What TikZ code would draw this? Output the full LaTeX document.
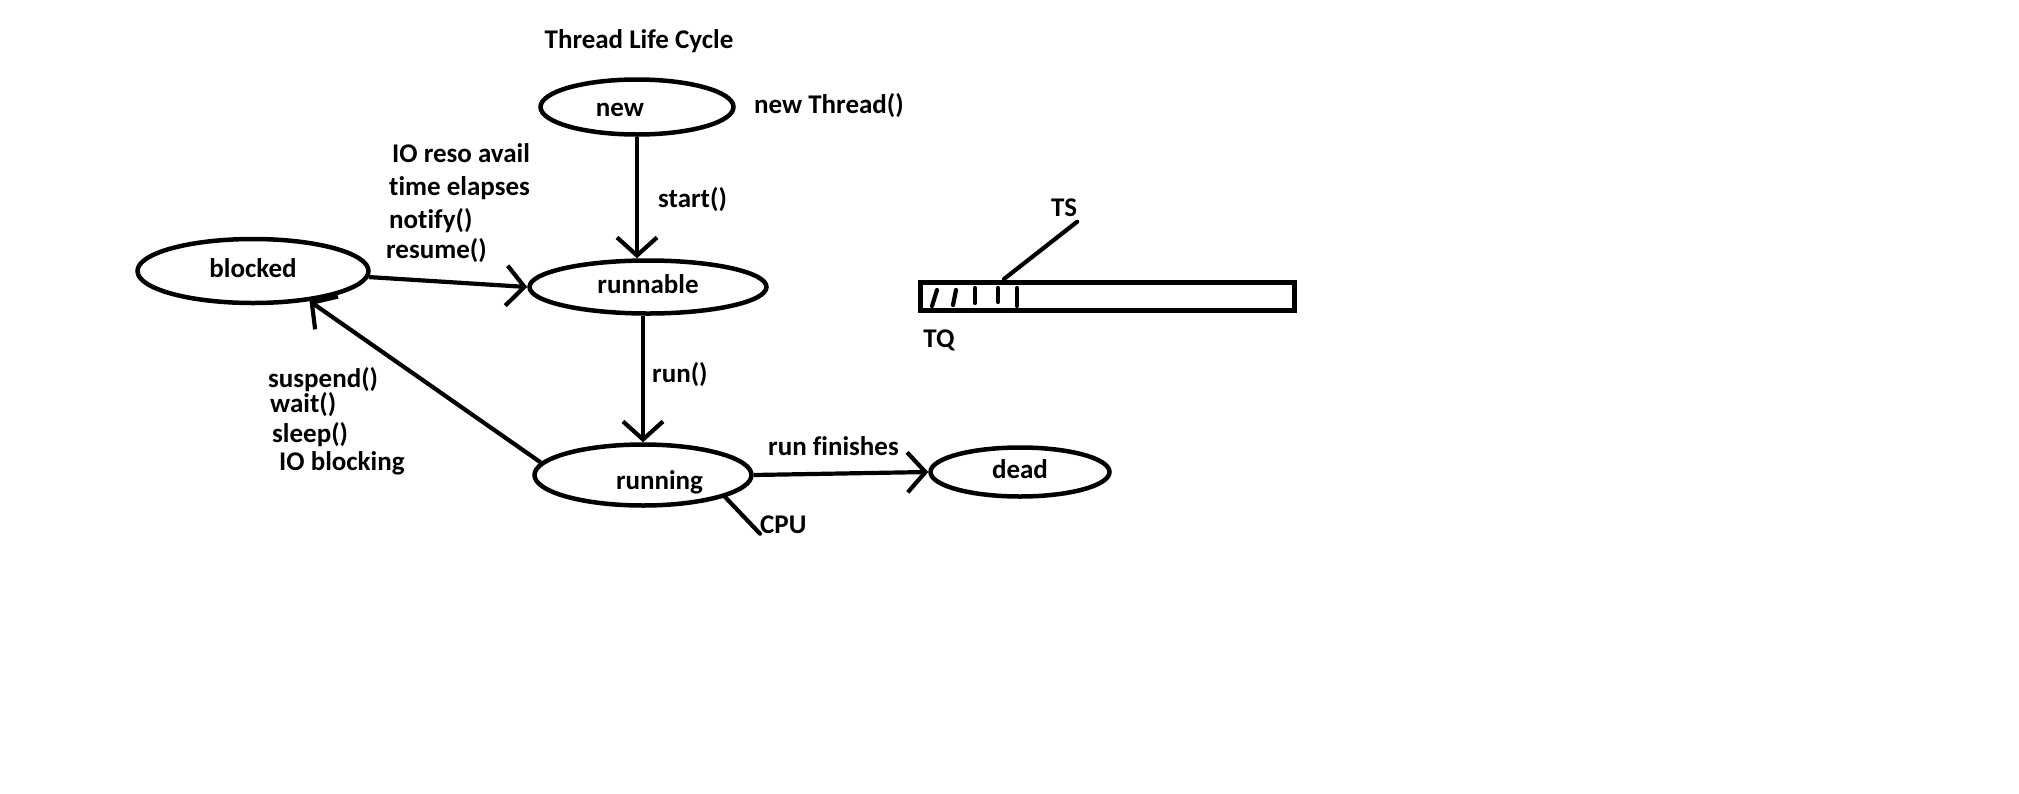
\documentclass[tikz,border=0pt]{standalone}
\usepackage{fontspec}
\setmainfont{Carlito}[Ligatures=NoCommon]
\usetikzlibrary{arrows.meta,shapes.geometric}
\begin{document}
\begin{tikzpicture}[x=1pt,y=-1pt,
  every node/.style={font=\bfseries\fontsize{27}{32}\selectfont, inner sep=0pt, text height=18pt, text depth=5pt},
  lbl/.style={text height=24pt, text depth=3pt},
  state/.style={draw, ellipse, line width=4.5pt},
  conn/.style={line width=4.2pt, -{Straight Barb[length=18pt,width=40pt]}},
  plain/.style={line width=4.2pt, line cap=round},
]
\fill[white] (0,0) rectangle (2019,793);
\useasboundingbox (0,0) rectangle (2019,793);

% states
\node[state, minimum width=193pt, minimum height=55pt, text height=22pt, text depth=4pt] (new) at (637,107) {new\hspace*{34pt}};
\node[state, minimum width=237pt, minimum height=53pt] (runnable) at (648,287) {runnable};
\node[state, minimum width=231pt, minimum height=64pt] (blocked) at (253,271) {blocked};
\node[state, minimum width=217pt, minimum height=61pt, text height=30pt, text depth=2pt] (running) at (643,475) {\hspace*{33pt}running};
\node[state, minimum width=179pt, minimum height=49pt] (dead) at (1020,472) {dead};

% labels
\node[lbl] (title) at (639,38) {Thread Life Cycle};
\node[lbl, anchor=west] (newlbl) at (754,103) {new Thread()};
\node[lbl, anchor=west] (startlbl) at (658,197) {start()};
\node[lbl, anchor=west] (runlbl) at (652,372) {run()};
\node[lbl, anchor=west] (finlbl) at (768,445) {run finishes};
\node[lbl, anchor=west] (cpu) at (760,523) {CPU};
\node[lbl] (ts) at (1064,206) {TS};
\node[lbl] (tq) at (939,337) {TQ};
\node[lbl, anchor=west] (w1) at (392,152) {IO reso avail};
\node[lbl, anchor=west] (w2) at (389,185) {time elapses};
\node[lbl, anchor=west] (w3) at (389,218) {notify()};
\node[lbl, anchor=west] (w4) at (386,248) {resume()};
\node[lbl, anchor=west] (b1) at (268,377) {suspend()};
\node[lbl, anchor=west] (b2) at (270,402) {wait()};
\node[lbl, anchor=west] (b3) at (272,432) {sleep()};
\node[lbl, anchor=west] (b4) at (279,460) {IO blocking};

% connectors
\draw[conn] (new.south) -- (new.south |- runnable.north);
\draw[conn] (running.north |- runnable.south) -- (running.north);
\draw[conn] (blocked.-3) -- (runnable.west);
\draw[conn] (running.173) -- (blocked.-28);
\draw[conn] (running.east) -- (dead.west);
\draw[plain] (running.-15) -- ([yshift=3pt]cpu.south west);

% time queue
\node[draw, rectangle, line width=4.5pt, minimum width=374pt, minimum height=28pt] (queue) at (1107.5,296.5) {};
\draw[plain] (932,306) -- (937,290);
\draw[plain] (953,305) -- (956,290);
\draw[plain] (975,303) -- (975,288);
\draw[plain] (998,302) -- (998,288);
\draw[plain] (1017,306) -- (1017,288);
\coordinate (tsfoot) at (1004,279);
\draw[plain] (tsfoot) -- ([yshift=-2pt]ts.south east);
\end{tikzpicture}
\end{document}
